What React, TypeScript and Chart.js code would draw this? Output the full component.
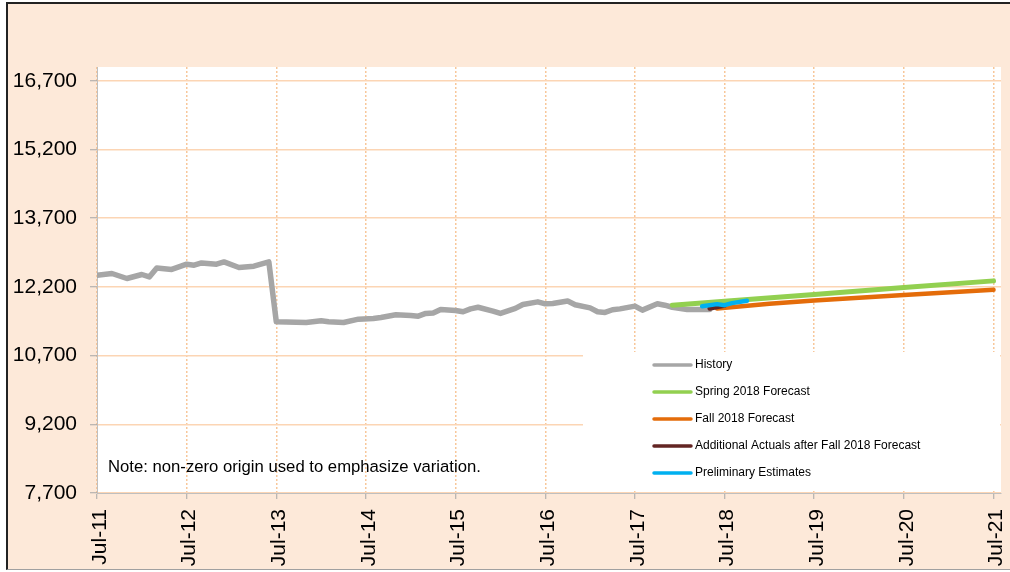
import React, { useEffect, useRef } from "react";
import { Chart, registerables } from "chart.js";

Chart.register(...registerables);

// ---- Data (x = months since Jul-2011) ----
const xTickMonths = [0, 12, 24, 36, 48, 60, 72, 84, 96, 108, 120];
const xTickLabels = ["Jul-11", "Jul-12", "Jul-13", "Jul-14", "Jul-15", "Jul-16", "Jul-17", "Jul-18", "Jul-19", "Jul-20", "Jul-21"];
const yTickValues = [7700, 9200, 10700, 12200, 13700, 15200, 16700];

const seriesLabels = [
  "History",
  "Spring 2018 Forecast",
  "Fall 2018 Forecast",
  "Additional Actuals after Fall 2018 Forecast",
  "Preliminary Estimates",
];
const seriesColors = ["#A6A6A6", "#92D050", "#E46C0A", "#632523", "#00B0F0"];

const historyMonths = [0, 2, 4, 6, 7, 8, 10, 12, 13, 14, 16, 17, 19, 21, 23, 24, 28, 30, 31, 33, 35, 37, 38, 40, 42, 43, 44, 45, 46, 48, 49, 50, 51, 53, 54, 56, 57, 59, 60, 61, 63, 64, 66, 67, 68, 69, 70, 72, 73, 75, 76, 77, 79, 82];
const historyValues = [12455, 12492, 12383, 12470, 12418, 12614, 12580, 12695, 12673, 12723, 12695, 12745, 12623, 12651, 12745, 11437, 11423, 11459, 11437, 11423, 11495, 11511, 11533, 11590, 11575, 11561, 11620, 11630, 11707, 11685, 11656, 11720, 11755, 11670, 11620, 11730, 11816, 11873, 11830, 11838, 11890, 11810, 11742, 11656, 11642, 11700, 11720, 11780, 11692, 11830, 11800, 11755, 11707, 11707];

const springMonths = [77, 84, 96, 108, 120];
const springValues = [11801, 11885, 12035, 12185, 12331];

const fallMonths = [83, 90, 96, 108, 120];
const fallValues = [11729, 11830, 11900, 12020, 12135];

const additionalMonths = [82, 84];
const additionalValues = [11729, 11790];

const prelimMonths = [81, 83, 84, 85, 87];
const prelimValues = [11779, 11823, 11801, 11845, 11895];

const noteText = "Note: non-zero origin used to emphasize variation.";

const FONT = "'Liberation Sans', Arial, sans-serif";

function pts(xs: number[], ys: number[]) {
  return xs.map((x, i) => ({ x, y: ys[i] }));
}

export default function App() {
  const canvasRef = useRef<HTMLCanvasElement | null>(null);

  useEffect(() => {
    const canvas = canvasRef.current;
    if (!canvas) return;

    const bgPlugin = {
      id: "plotBg",
      beforeDraw(chart: any) {
        const { ctx, chartArea } = chart;
        ctx.save();
        ctx.fillStyle = "#FFFFFF";
        ctx.fillRect(chartArea.left, chartArea.top, chartArea.right - chartArea.left, chartArea.bottom - chartArea.top);
        ctx.restore();
      },
    };

    const overlayPlugin = {
      id: "overlay",
      afterDraw(chart: any) {
        const { ctx } = chart;
        ctx.save();
        // note
        ctx.fillStyle = "#000";
        ctx.font = `16.7px ${FONT}`;
        ctx.textBaseline = "middle";
        ctx.textAlign = "left";
        ctx.fillText(noteText, 108, 467);
        // legend box
        ctx.fillStyle = "#FFFFFF";
        ctx.fillRect(583, 352, 417, 137);
        ctx.font = `12px ${FONT}`;
        seriesLabels.forEach((lab, i) => {
          const y = 365 + i * 27;
          ctx.strokeStyle = seriesColors[i];
          ctx.lineWidth = 3.5;
          ctx.lineCap = "round";
          ctx.beginPath();
          ctx.moveTo(654, y);
          ctx.lineTo(691, y);
          ctx.stroke();
          ctx.fillStyle = "#000";
          ctx.fillText(lab, 695, y);
        });
        ctx.restore();
      },
    };

    const mk = (i: number, data: any[], width: number, order: number) => ({
      label: seriesLabels[i],
      data,
      borderColor: seriesColors[i],
      backgroundColor: seriesColors[i],
      borderWidth: width,
      pointRadius: 0,
      tension: 0,
      fill: false,
      borderCapStyle: "round",
      borderJoinStyle: "round",
      order,
    });

    const chart = new Chart(canvas, {
      type: "line",
      data: {
        datasets: [
          mk(0, pts(historyMonths, historyValues), 5.5, 4),
          mk(1, pts(springMonths, springValues), 5, 3),
          mk(2, pts(fallMonths, fallValues), 4.5, 2),
          mk(3, pts(additionalMonths, additionalValues), 4.5, 1),
          mk(4, pts(prelimMonths, prelimValues), 4.5, 0),
        ] as any,
      },
      options: {
        animation: false,
        responsive: false,
        maintainAspectRatio: false,
        layout: { padding: { left: 0, top: 67, right: 9, bottom: 0 } },
        plugins: { legend: { display: false }, tooltip: { enabled: false } },
        scales: {
          x: {
            type: "linear",
            min: 0,
            max: 121,
            afterBuildTicks: (s: any) => {
              s.ticks = xTickMonths.map((v) => ({ value: v }));
            },
            afterFit: (s: any) => {
              s.height = 79;
              s.paddingLeft = 0;
              s.paddingRight = 0;
            },
            ticks: {
              autoSkip: false,
              maxRotation: 90,
              minRotation: 90,
              padding: 10,
              labelOffset: 3,
              color: "#000",
              font: { family: FONT, size: 21 },
              callback: (v: any) => {
                const idx = xTickMonths.indexOf(Number(v));
                return idx >= 0 ? xTickLabels[idx] : "";
              },
            },
            grid: {
              color: "#F8C79A",
              lineWidth: 1.5,
              tickLength: 6,
              tickColor: "#A6A6A6",
              tickWidth: 1,
              tickBorderDash: [],
            },
            border: { display: true, color: "#BFBFBF", width: 1, dash: [2, 2] },
          },
          y: {
            min: 7700,
            max: 17000,
            afterBuildTicks: (s: any) => {
              s.ticks = yTickValues.map((v) => ({ value: v }));
            },
            afterFit: (s: any) => {
              s.width = 97;
              s.paddingTop = 0;
              s.paddingBottom = 0;
            },
            ticks: {
              padding: 13,
              color: "#000",
              font: { family: FONT, size: 21 },
              callback: (v: any) => Number(v).toLocaleString("en-US"),
            },
            grid: {
              color: "#FCD5B4",
              lineWidth: 1.5,
              tickLength: 7,
              tickColor: "#A6A6A6",
              tickWidth: 1,
            },
            border: { display: true, color: "#BFBFBF", width: 1 },
          },
        },
      } as any,
      plugins: [bgPlugin, overlayPlugin],
    });

    return () => chart.destroy();
  }, []);

  return (
    <div style={{ position: "fixed", left: 0, top: 0, width: 1010, height: 572, background: "#FFFFFF", overflow: "hidden" }}>
      <div
        style={{
          position: "absolute",
          left: 6,
          top: 2,
          width: 1010,
          height: 568,
          background: "#FDE9D9",
          borderLeft: "2px solid #222",
          borderTop: "2px solid #222",
          borderBottom: "1px solid #A0A0A0",
          boxSizing: "border-box",
        }}
      />
      <canvas ref={canvasRef} width={1010} height={572} style={{ position: "absolute", left: 0, top: 0, width: 1010, height: 572 }} />
    </div>
  );
}
